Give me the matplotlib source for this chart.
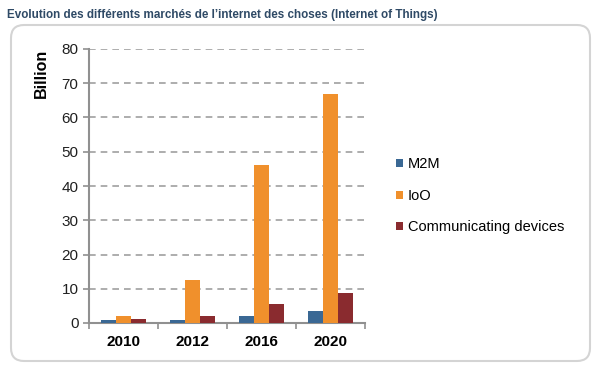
import matplotlib.pyplot as plt
from matplotlib.patches import FancyBboxPatch
import numpy as np

years = ['2010', '2012', '2016', '2020']
m2m = [0.8, 0.8, 1.9, 3.4]
ioo = [2.1, 12.6, 46, 67]
comm = [1.3, 2.1, 5.5, 8.8]
series = ['M2M', 'IoO', 'Communicating devices']
colors = ['#3a6894', '#f0902c', '#8a2b2f']

fig = plt.figure(figsize=(6, 3.72), dpi=100)
fig.patch.set_facecolor('white')

# rounded frame around the chart (inches)
frame = FancyBboxPatch((0.11, 0.11), 5.79, 3.36,
                       boxstyle='round,pad=0,rounding_size=0.13',
                       transform=fig.dpi_scale_trans, facecolor='none',
                       edgecolor='#d4d4d4', linewidth=1.5, zorder=-1)
fig.patches.append(frame)

fig.text(7 / 600, 1 - 15 / 372,
         "Evolution des différents marchés de l\u2019internet des choses (Internet of Things)",
         fontsize=8.4, fontweight='bold', color='#2f4a66', va='center', ha='left',
         family='Liberation Sans')

ax = fig.add_axes([89 / 600, 1 - 323 / 372, 276 / 600, 274 / 372])
x = np.arange(len(years))
w = 0.22
for i, (vals, name, c) in enumerate(zip([m2m, ioo, comm], series, colors)):
    ax.bar(x + (i - 1) * w, vals, w, color=c, label=name, zorder=3)

ax.set_xlim(-0.5, 3.5)
ax.set_ylim(0, 80)
ax.set_yticks(range(0, 81, 10))
ax.yaxis.grid(True, linestyle=(0, (4, 3)), color='#a0a0a0', linewidth=1.2, zorder=0)
ax.set_xticks(x)
ax.set_xticklabels(years, fontweight='bold', fontsize=11, family='Liberation Sans')
ax.set_xticks([-0.5, 0.5, 1.5, 2.5, 3.5], minor=True)
ax.tick_params(axis='x', which='major', length=0, pad=9)
ax.tick_params(axis='x', which='minor', length=4, color='#909090', width=1.2)
ax.tick_params(axis='y', length=4, color='#909090', width=1.2, labelsize=11,
               labelcolor='#202020')
for lab in ax.get_yticklabels():
    lab.set_family('Liberation Sans')
for s in ['top', 'right']:
    ax.spines[s].set_visible(False)
for s in ['left', 'bottom']:
    ax.spines[s].set_color('#909090')
    ax.spines[s].set_linewidth(1.5)
ax.set_ylabel('Billion', fontweight='bold', fontsize=11.5, family='Liberation Sans')
ax.yaxis.set_label_coords(-0.145, 0.91)

handles, labels = ax.get_legend_handles_labels()
fig.legend(handles, labels, loc='center left', bbox_to_anchor=(383 / 600, 1 - 196 / 372),
           frameon=False, handlelength=0.5, handleheight=0.5, labelspacing=1.2,
           handletextpad=0.3, prop={'family': 'Liberation Sans', 'size': 10.5})

fig.savefig('out.png', dpi=100)
